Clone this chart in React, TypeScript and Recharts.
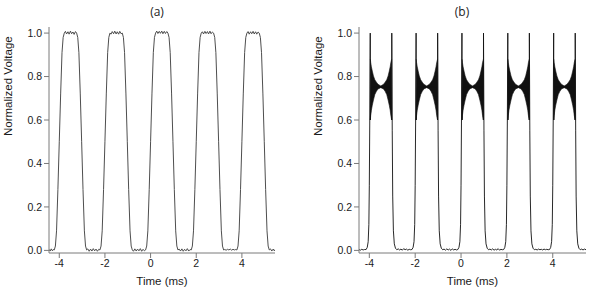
import { ComposedChart, Line, Area, XAxis, YAxis } from 'recharts'

// axis setup
const xTicks = [-4, -2, 0, 2, 4]
const yTicks = [0, 0.2, 0.4, 0.6, 0.8, 1.0]
const xDomain: [number, number] = [-4.45, 5.45]
const yDomain: [number, number] = [-0.012, 1.028]
const panelTitles = ['(a)', '(b)']
const xLabel = 'Time (ms)'
const yLabel = 'Normalized Voltage'

// (a) square pulses, [time ms, normalized V]
const traceA: [number, number][] = [
  [-4.45, 0.005], [-4.4, -0.003], [-4.35, 0.007], [-4.3, -0.002], [-4.26, 0.004],
  [-4.22, 0.002], [-4.17, 0.02], [-4.12, 0.09], [-4.06, 0.28], [-4.0, 0.5], [-3.94, 0.72], [-3.88, 0.91], [-3.83, 0.98], [-3.78, 1.0],
  [-3.73, 1.008], [-3.68, 0.996], [-3.62, 1.006], [-3.57, 0.995], [-3.51, 1.009], [-3.46, 0.997], [-3.4, 1.005], [-3.35, 0.994], [-3.29, 1.007],
  [-3.24, 1.0], [-3.19, 0.98], [-3.14, 0.91], [-3.08, 0.72], [-3.02, 0.5], [-2.96, 0.28], [-2.9, 0.09], [-2.85, 0.02], [-2.8, 0.002],
  [-2.75, 0.007], [-2.69, -0.004], [-2.63, 0.006], [-2.57, -0.003], [-2.51, 0.008], [-2.45, -0.002], [-2.39, 0.006], [-2.33, -0.004], [-2.27, 0.005],
  [-2.22, 0.002], [-2.17, 0.02], [-2.12, 0.09], [-2.06, 0.28], [-2.0, 0.5], [-1.94, 0.72], [-1.88, 0.91], [-1.83, 0.98], [-1.78, 1.0],
  [-1.73, 0.995], [-1.68, 1.007], [-1.62, 0.997], [-1.57, 1.009], [-1.51, 0.996], [-1.46, 1.006], [-1.4, 0.995], [-1.35, 1.008], [-1.29, 0.997],
  [-1.24, 1.0], [-1.19, 0.98], [-1.14, 0.91], [-1.08, 0.72], [-1.02, 0.5], [-0.96, 0.28], [-0.9, 0.09], [-0.85, 0.02], [-0.8, 0.002],
  [-0.75, -0.004], [-0.69, 0.007], [-0.63, -0.003], [-0.57, 0.006], [-0.51, -0.002], [-0.45, 0.008], [-0.39, -0.004], [-0.33, 0.005], [-0.27, -0.002],
  [-0.22, 0.002], [-0.17, 0.02], [-0.12, 0.09], [-0.06, 0.28], [0.0, 0.5], [0.06, 0.72], [0.12, 0.91], [0.17, 0.98], [0.22, 1.0],
  [0.27, 1.009], [0.32, 0.998], [0.38, 1.008], [0.43, 0.999], [0.49, 1.009], [0.54, 0.997], [0.6, 1.008], [0.65, 0.998], [0.71, 1.007],
  [0.76, 1.0], [0.81, 0.98], [0.86, 0.91], [0.92, 0.72], [0.98, 0.5], [1.04, 0.28], [1.1, 0.09], [1.15, 0.02], [1.2, 0.002],
  [1.25, 0.006], [1.31, -0.003], [1.37, 0.007], [1.43, -0.004], [1.49, 0.005], [1.55, -0.002], [1.61, 0.008], [1.67, -0.003], [1.73, 0.004],
  [1.78, 0.002], [1.83, 0.02], [1.88, 0.09], [1.94, 0.28], [2.0, 0.5], [2.06, 0.72], [2.12, 0.91], [2.17, 0.98], [2.22, 1.0],
  [2.27, 1.006], [2.32, 0.996], [2.38, 1.008], [2.43, 0.998], [2.49, 1.007], [2.54, 0.996], [2.6, 1.009], [2.65, 0.997], [2.71, 1.005],
  [2.76, 1.0], [2.81, 0.98], [2.86, 0.91], [2.92, 0.72], [2.98, 0.5], [3.04, 0.28], [3.1, 0.09], [3.15, 0.02], [3.2, 0.002],
  [3.25, 0.004], [3.31, 0.001], [3.37, 0.005], [3.43, 0.002], [3.49, 0.006], [3.55, 0.001], [3.61, 0.005], [3.67, 0.002], [3.73, 0.004],
  [3.78, 0.002], [3.83, 0.02], [3.88, 0.09], [3.94, 0.28], [4.0, 0.5], [4.06, 0.72], [4.12, 0.91], [4.17, 0.98], [4.22, 1.0],
  [4.27, 1.007], [4.32, 0.995], [4.38, 1.006], [4.43, 0.997], [4.49, 1.008], [4.54, 0.996], [4.6, 1.006], [4.65, 0.995], [4.71, 1.005],
  [4.76, 1.0], [4.81, 0.98], [4.86, 0.91], [4.92, 0.72], [4.98, 0.5], [5.04, 0.28], [5.1, 0.09], [5.15, 0.02], [5.2, 0.002],
  [5.25, 0.007], [5.31, -0.003], [5.37, 0.006], [5.42, -0.002], [5.45, 0.004],
]

// (b) pulses with edge spikes, [time ms, normalized V]
const traceB: [number, number][] = [
  [-4.45, 0.004], [-4.39, 0.001], [-4.33, 0.005], [-4.27, 0.002], [-4.21, 0.004],
  [-4.14, 0.004], [-4.09, 0.014], [-4.05, 0.04], [-4.02, 0.12], [-4.0, 0.3], [-3.98, 0.6], [-3.96, 1.0], [-3.955, 0.6],
  [-3.91, 0.75], [-3.5, 0.753], [-3.07, 0.75],
  [-3.025, 0.6], [-3.02, 1.0], [-3.0, 0.55], [-2.98, 0.25], [-2.95, 0.09], [-2.91, 0.03], [-2.86, 0.01], [-2.8, 0.003],
  [-2.74, 0.007], [-2.68, 0.002], [-2.62, 0.006], [-2.56, 0.001], [-2.5, 0.008], [-2.44, 0.003], [-2.38, 0.006], [-2.32, 0.001], [-2.26, 0.005], [-2.2, 0.003],
  [-2.14, 0.004], [-2.09, 0.014], [-2.05, 0.04], [-2.02, 0.12], [-2.0, 0.3], [-1.98, 0.6], [-1.96, 1.0], [-1.955, 0.6],
  [-1.91, 0.75], [-1.5, 0.753], [-1.07, 0.75],
  [-1.025, 0.6], [-1.02, 1.0], [-1.0, 0.55], [-0.98, 0.25], [-0.95, 0.09], [-0.91, 0.03], [-0.86, 0.01], [-0.8, 0.003],
  [-0.74, 0.006], [-0.68, 0.001], [-0.62, 0.007], [-0.56, 0.002], [-0.5, 0.006], [-0.44, 0.0], [-0.38, 0.007], [-0.32, 0.002], [-0.26, 0.005], [-0.2, 0.002],
  [-0.14, 0.004], [-0.09, 0.014], [-0.05, 0.04], [-0.02, 0.12], [0.0, 0.3], [0.02, 0.6], [0.04, 1.0], [0.045, 0.6],
  [0.09, 0.75], [0.5, 0.753], [0.93, 0.75],
  [0.975, 0.6], [0.98, 1.0], [1.0, 0.55], [1.02, 0.25], [1.05, 0.09], [1.09, 0.03], [1.14, 0.01], [1.2, 0.003],
  [1.26, 0.006], [1.32, 0.002], [1.38, 0.007], [1.44, 0.001], [1.5, 0.005], [1.56, 0.002], [1.62, 0.008], [1.68, 0.001], [1.74, 0.005], [1.8, 0.003],
  [1.86, 0.004], [1.91, 0.014], [1.95, 0.04], [1.98, 0.12], [2.0, 0.3], [2.02, 0.6], [2.04, 1.0], [2.045, 0.6],
  [2.09, 0.75], [2.5, 0.753], [2.93, 0.75],
  [2.975, 0.6], [2.98, 1.0], [3.0, 0.55], [3.02, 0.25], [3.05, 0.09], [3.09, 0.03], [3.14, 0.01], [3.2, 0.003],
  [3.26, 0.005], [3.32, 0.002], [3.38, 0.006], [3.44, 0.003], [3.5, 0.005], [3.56, 0.002], [3.62, 0.006], [3.68, 0.003], [3.74, 0.005], [3.8, 0.003],
  [3.86, 0.004], [3.91, 0.014], [3.95, 0.04], [3.98, 0.12], [4.0, 0.3], [4.02, 0.6], [4.04, 1.0], [4.045, 0.6],
  [4.09, 0.75], [4.5, 0.753], [4.93, 0.75],
  [4.975, 0.6], [4.98, 1.0], [5.0, 0.55], [5.02, 0.25], [5.05, 0.09], [5.09, 0.03], [5.14, 0.01], [5.2, 0.003],
  [5.26, 0.006], [5.32, 0.002], [5.38, 0.006], [5.45, 0.003],
]

// (b) ringing envelope on each plateau, [time ms, low, high]
const envelopeB: [number, number, number][][] = [
  [
    [-3.955, 0.6, 0.88], [-3.94, 0.62, 0.865], [-3.91, 0.645, 0.845], [-3.87, 0.668, 0.825], [-3.82, 0.692, 0.803],
    [-3.76, 0.717, 0.785], [-3.69, 0.732, 0.774], [-3.62, 0.743, 0.764], [-3.5, 0.749, 0.757], [-3.38, 0.743, 0.764],
    [-3.31, 0.732, 0.774], [-3.24, 0.717, 0.785], [-3.18, 0.692, 0.803], [-3.13, 0.668, 0.825], [-3.09, 0.645, 0.845],
    [-3.06, 0.62, 0.865], [-3.025, 0.6, 0.88],
  ],
  [
    [-1.955, 0.6, 0.88], [-1.94, 0.62, 0.865], [-1.91, 0.645, 0.845], [-1.87, 0.668, 0.825], [-1.82, 0.692, 0.803],
    [-1.76, 0.717, 0.785], [-1.69, 0.732, 0.774], [-1.62, 0.743, 0.764], [-1.5, 0.749, 0.757], [-1.38, 0.743, 0.764],
    [-1.31, 0.732, 0.774], [-1.24, 0.717, 0.785], [-1.18, 0.692, 0.803], [-1.13, 0.668, 0.825], [-1.09, 0.645, 0.845],
    [-1.06, 0.62, 0.865], [-1.025, 0.6, 0.88],
  ],
  [
    [0.045, 0.6, 0.88], [0.06, 0.62, 0.865], [0.09, 0.645, 0.845], [0.13, 0.668, 0.825], [0.18, 0.692, 0.803],
    [0.24, 0.717, 0.785], [0.31, 0.732, 0.774], [0.38, 0.743, 0.764], [0.5, 0.749, 0.757], [0.62, 0.743, 0.764],
    [0.69, 0.732, 0.774], [0.76, 0.717, 0.785], [0.82, 0.692, 0.803], [0.87, 0.668, 0.825], [0.91, 0.645, 0.845],
    [0.94, 0.62, 0.865], [0.975, 0.6, 0.88],
  ],
  [
    [2.045, 0.6, 0.88], [2.06, 0.62, 0.865], [2.09, 0.645, 0.845], [2.13, 0.668, 0.825], [2.18, 0.692, 0.803],
    [2.24, 0.717, 0.785], [2.31, 0.732, 0.774], [2.38, 0.743, 0.764], [2.5, 0.749, 0.757], [2.62, 0.743, 0.764],
    [2.69, 0.732, 0.774], [2.76, 0.717, 0.785], [2.82, 0.692, 0.803], [2.87, 0.668, 0.825], [2.91, 0.645, 0.845],
    [2.94, 0.62, 0.865], [2.975, 0.6, 0.88],
  ],
  [
    [4.045, 0.6, 0.88], [4.06, 0.62, 0.865], [4.09, 0.645, 0.845], [4.13, 0.668, 0.825], [4.18, 0.692, 0.803],
    [4.24, 0.717, 0.785], [4.31, 0.732, 0.774], [4.38, 0.743, 0.764], [4.5, 0.749, 0.757], [4.62, 0.743, 0.764],
    [4.69, 0.732, 0.774], [4.76, 0.717, 0.785], [4.82, 0.692, 0.803], [4.87, 0.668, 0.825], [4.91, 0.645, 0.845],
    [4.94, 0.62, 0.865], [4.975, 0.6, 0.88],
  ],
]

const frameColor = '#7a7a7a'
const tickStyle = { fontSize: 10.5, fill: '#1a1a1a' }

const rowsA = traceA.map(([t, v]) => ({ t, v }))
const rowsB = traceB.map(([t, v]) => ({ t, v }))
const bandsB = envelopeB.map((pulse) => pulse.map(([t, lo, hi]) => ({ t, band: [lo, hi] })))

// left/bottom axes with ticks plus top/right lines to close the box
function frameAxes() {
  return [
    <XAxis
      key="x"
      dataKey="t"
      type="number"
      domain={xDomain}
      allowDataOverflow
      ticks={xTicks}
      tickSize={5}
      height={38}
      stroke={frameColor}
      tick={tickStyle}
      label={{ value: xLabel, position: 'insideBottom', offset: 6, fontSize: 11.5, fill: '#1a1a1a' }}
    />,
    <XAxis
      key="xt"
      xAxisId="top"
      orientation="top"
      dataKey="t"
      type="number"
      domain={xDomain}
      allowDataOverflow
      height={0}
      tick={false}
      tickLine={false}
      stroke={frameColor}
    />,
    <YAxis
      key="y"
      type="number"
      domain={yDomain}
      allowDataOverflow
      ticks={yTicks}
      tickSize={5}
      width={49}
      stroke={frameColor}
      tick={tickStyle}
      tickFormatter={(v: number) => v.toFixed(1)}
      label={{ value: yLabel, angle: -90, position: 'insideLeft', offset: 8, dy: -4, fontSize: 11.5, fill: '#1a1a1a' }}
    />,
    <YAxis
      key="yr"
      yAxisId="right"
      orientation="right"
      type="number"
      domain={yDomain}
      allowDataOverflow
      width={0}
      tick={false}
      tickLine={false}
      stroke={frameColor}
    />,
  ]
}

export default function App() {
  return (
    <div
      style={{
        position: 'absolute',
        left: 0,
        top: 0,
        width: 592,
        height: 291,
        background: '#fff',
        fontFamily: '"Liberation Sans", Arial, sans-serif',
      }}
    >
      <div style={{ position: 'absolute', left: 137, top: 3, width: 40, textAlign: 'center', fontFamily: '"Open Sans", sans-serif', fontSize: 12, color: '#222' }}>
        {panelTitles[0]}
      </div>
      <div style={{ position: 'absolute', left: 442, top: 3, width: 40, textAlign: 'center', fontFamily: '"Open Sans", sans-serif', fontSize: 12, color: '#222' }}>
        {panelTitles[1]}
      </div>

      <div style={{ position: 'absolute', left: 0, top: 0 }}>
        <ComposedChart width={296} height={291} data={rowsA} margin={{ top: 27, right: 21, bottom: 0, left: 0 }}>
          {frameAxes()}
          <Line type="linear" dataKey="v" stroke="#3a3a3a" strokeWidth={0.9} dot={false} isAnimationActive={false} />
        </ComposedChart>
      </div>

      <div style={{ position: 'absolute', left: 310, top: 0 }}>
        <ComposedChart width={282} height={291} data={rowsB} margin={{ top: 27, right: 6, bottom: 0, left: 0 }}>
          {frameAxes()}
          {bandsB.map((rows, i) => (
            <Area
              key={i}
              data={rows}
              type="linear"
              dataKey="band"
              stroke="#111"
              strokeWidth={0.6}
              fill="#111"
              fillOpacity={1}
              dot={false}
              activeDot={false}
              isAnimationActive={false}
            />
          ))}
          <Line type="linear" dataKey="v" stroke="#111" strokeWidth={0.9} dot={false} isAnimationActive={false} />
        </ComposedChart>
      </div>
    </div>
  )
}
